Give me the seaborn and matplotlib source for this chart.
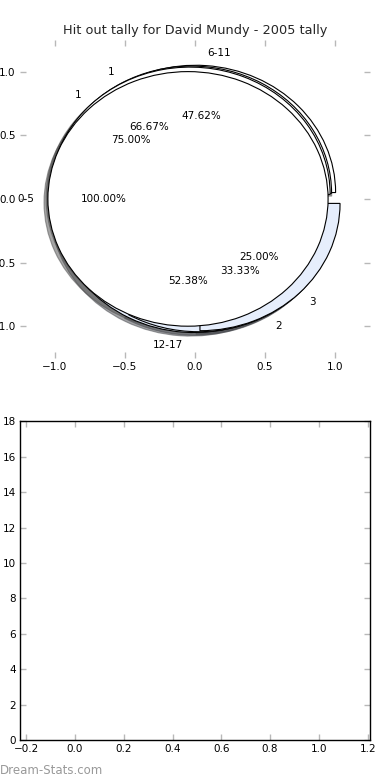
import matplotlib
matplotlib.use("Agg")
import matplotlib.pyplot as plt
import seaborn as sns

sns.set_theme(style="white")
plt.rcParams['font.family'] = ['DejaVu Sans']

title = "Hit out tally for David Mundy - 2005 tally"

# pies (drawn in this order)
pie_c_labels = ['6-11', '12-17']
pie_c_values = [10, 11]
pie_b_labels = ['1', '2']
pie_b_values = [2, 1]
pie_a_labels = ['1', '3']
pie_a_values = [3, 1]
pie_d_labels = ['0-5']
pie_d_values = [1]

pie_xticks = [-1.0, -0.5, 0.0, 0.5, 1.0]
pie_yticks = [-1.0, -0.5, 0.0, 0.5, 1.0]
bar_xticks = [-0.2, 0.0, 0.2, 0.4, 0.6, 0.8, 1.0, 1.2]
bar_yticks = [0, 2, 4, 6, 8, 10, 12, 14, 16, 18]

colors = ['white', '#e6eefc']
FS = 7.5

fig = plt.figure(figsize=(3.9, 7.8), dpi=100)
ax1 = fig.add_axes([0.051, 0.541, 0.898, 0.408])
ax2 = fig.add_axes([0.051, 0.051, 0.898, 0.409])

for labels, values in [(pie_c_labels, pie_c_values), (pie_b_labels, pie_b_values),
                       (pie_a_labels, pie_a_values), (pie_d_labels, pie_d_values)]:
    wedges, texts, autotexts = ax1.pie(
        values, labels=labels, explode=[0.05] * len(values),
        colors=colors[:len(values)], autopct='%1.2f%%', shadow=True,
        wedgeprops=dict(edgecolor='black', linewidth=0.8),
        textprops=dict(fontsize=FS, color='black'))

ax1.set_aspect('auto')
ax1.set_frame_on(True)
for s in ax1.spines.values():
    s.set_visible(False)
ax1.set_xlim(-1.25, 1.25)
ax1.set_ylim(-1.25, 1.25)
ax1.set_xticks(pie_xticks)
ax1.set_yticks(pie_yticks)
ax1.set_title(title, fontsize=9.3, pad=4)

ax2.set_xlim(-0.226, 1.21)
ax2.set_ylim(0, 18)
ax2.set_xticks(bar_xticks)
ax2.set_yticks(bar_yticks)
for s in ax2.spines.values():
    s.set_visible(True)
    s.set_color('black')
    s.set_linewidth(1.0)

for ax in (ax1, ax2):
    ax.tick_params(axis='both', which='major', direction='in', length=4, width=1,
                   color='#b8b8b8', labelsize=FS, labelcolor='black',
                   top=True, right=True, bottom=True, left=True, pad=3)

fig.text(0.0, 0.004, 'Dream-Stats.com', fontsize=8.5, color='#999999',
         ha='left', va='bottom')

fig.savefig('out.png', dpi=100, facecolor='white')
